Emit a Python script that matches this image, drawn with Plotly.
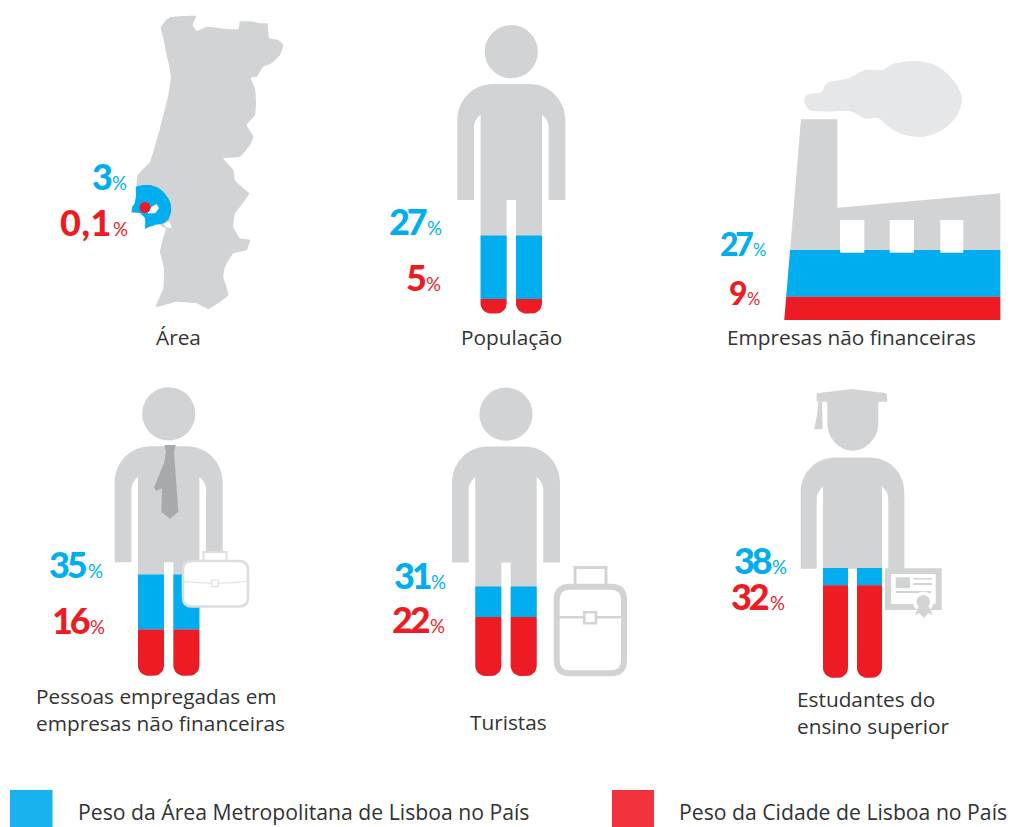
"""Pictogram infographic: weight of Lisbon city and metro area in Portugal."""
import numpy as np
import plotly.graph_objects as go

BLUE = "#00AEEF"
RED = "#ED1C24"
GREY = "#D1D3D4"
TEXT = "#333333"

# Shares as printed next to each pictogram
categories = ["Área", "População", "Empresas não financeiras",
              "Pessoas empregadas em<br>empresas não financeiras", "Turistas",
              "Estudantes do<br>ensino superior"]
metro_labels = ["3", "27", "27", "35", "31", "38"]
city_labels = ["0,1", "5", "9", "16", "22", "32"]

# Fill levels of the drawn pictograms, % of pictogram height (no fill for the map)
metro_levels = [None, 27, 27, 35, 31, 38]
city_levels = [None, 5, 9, 16, 20.4, 32]

legend_labels = ["Peso da Área Metropolitana de Lisboa no País", "Peso da Cidade de Lisboa no País"]

# right edge of the digits and their vertical centre, per pictogram
metro_anchor = [(112, 176), (427, 221), (753, 243), (87.5, 564), (431, 575), (772, 560)]
city_anchor = [(112.5, 222), (426, 277), (747, 292), (90, 620), (430, 619), (769.5, 596)]
number_size = [36, 36, 32, 36, 36, 36]

# people: centre x, feet y, scale
PEOPLE = {1: (511.3, 313.5, 1.0), 3: (168.7, 675.7, 1.0), 4: (506.0, 676.0, 1.0), 5: (852.5, 677.7, 0.96)}
PERSON_H = 289

# factory outline, page px
FACTORY_BASE, FACTORY_H, FACTORY_RIGHT = 320, 259, 1000.3
FACTORY_EDGE_Y, FACTORY_EDGE_X = [119.3, 320], [801, 784.3]

# outlines traced on a 3x crop, (crop x, crop y)
MAP_CROP = (60, 5)
MAP_OUTLINE = [(302, 68), (318, 45), (332, 36), (408, 33), (398, 60), (410, 78), (440, 65), (470, 68), (500, 72),
               (535, 72), (540, 50), (580, 50), (600, 55), (622, 55), (628, 100), (655, 105), (670, 120), (660, 150),
               (635, 175), (610, 185), (590, 215), (572, 218), (585, 250), (588, 290), (585, 330), (560, 360),
               (580, 395), (570, 420), (540, 455), (490, 460), (520, 495), (525, 525), (550, 550), (568, 565),
               (545, 600), (525, 625), (520, 665), (540, 700), (570, 705), (560, 735), (520, 745), (495, 785),
               (490, 815), (505, 870), (445, 912), (410, 895), (350, 890), (288, 905), (310, 850), (312, 790),
               (300, 740), (312, 690), (318, 672), (300, 660), (230, 545), (233, 510), (270, 470), (300, 370),
               (325, 270), (333, 215), (320, 150), (310, 100)]
METRO_OUTLINE = [(228, 545), (250, 540), (270, 540), (292, 547), (310, 560), (325, 580), (333, 600), (333, 622),
                 (326, 642), (310, 655), (285, 660), (262, 668), (256, 672), (255, 640), (240, 625), (215, 622),
                 (217, 605), (224, 595), (228, 570)]
ESTUARY = [(262, 625), (275, 605), (290, 597), (297, 610), (285, 625)]
NOTCH = [(310, 657), (328, 650), (336, 668), (322, 668)]

SMOKE_CROP = (715, 50)
SMOKE = [(268, 155), (275, 135), (320, 125), (335, 100), (400, 85), (450, 60), (500, 60), (540, 40), (600, 33),
         (660, 45), (710, 85), (740, 140), (730, 190), (690, 235), (630, 260), (570, 255), (520, 230), (490, 205),
         (450, 205), (410, 185), (330, 185), (285, 180), (268, 155)]

TIE_CROP = (30, 380)
TIE = [(403, 195), (437, 195), (432, 215), (445, 395), (420, 416), (394, 395), (396, 325), (378, 332), (372, 322),
       (402, 250), (408, 215)]

CAP_CROP = (730, 380)
BOARD = [(260, 40), (365, 27), (470, 40), (472, 65), (260, 65)]
TASSEL = [(265, 65), (276, 65), (278, 148), (253, 148), (262, 100)]
RIBBON = [(565, 680), (597, 680), (608, 705), (595, 700), (582, 714), (568, 700), (555, 705)]


def crop_xy(points, crop):
    xs = [crop[0] + p[0] / 3 for p in points]
    ys = [crop[1] + p[1] / 3 for p in points]
    return xs, ys


def to_path(points, crop):
    xs, ys = crop_xy(points, crop)
    return "M " + " L ".join(f"{x:.1f} {y:.1f}" for x, y in zip(xs, ys)) + " Z"


def person_path(cx, feet, s):
    def p(dx, up):
        return f"{cx + dx * s:.1f} {feet - up * s:.1f}"
    right = [f"M {p(-18, 229.5)} L {p(18, 229.5)}",
             f"C {p(38, 229.5)} {p(54, 214)} {p(54, 193)}",
             f"L {p(54, 113.5)} L {p(37.3, 113.5)} L {p(37.3, 186)}",
             f"C {p(37.3, 192)} {p(34, 196)} {p(30.7, 199)}",
             f"L {p(30.7, 10)} C {p(30.7, 4.5)} {p(26, 0)} {p(20.7, 0)}",
             f"L {p(14.7, 0)} C {p(9, 0)} {p(4.7, 4.5)} {p(4.7, 10)}",
             f"L {p(4.7, 113.5)} L {p(-4.7, 113.5)} L {p(-4.7, 10)}",
             f"C {p(-4.7, 4.5)} {p(-9, 0)} {p(-14.7, 0)}",
             f"L {p(-20.7, 0)} C {p(-26, 0)} {p(-30.7, 4.5)} {p(-30.7, 10)}",
             f"L {p(-30.7, 199)} C {p(-34, 196)} {p(-37.3, 192)} {p(-37.3, 186)}",
             f"L {p(-37.3, 113.5)} L {p(-54, 113.5)} L {p(-54, 193)}",
             f"C {p(-54, 214)} {p(-38, 229.5)} {p(-18, 229.5)} Z"]
    return " ".join(right)


def leg_polygons(cx, feet, s, top, bottom):
    """Two leg sections between two heights above the feet; rounded when they reach the feet."""
    xs, ys = [], []
    theta = np.linspace(0, np.pi / 2, 8)
    r = 10 * s
    for x0, x1 in [(4.7, 30.7), (-30.7, -4.7)]:
        x0, x1 = cx + x0 * s, cx + x1 * s
        if bottom > 0:
            xs += [x0, x1, x1, x0, x0, None]
            ys += [feet - top, feet - top, feet - bottom, feet - bottom, feet - top, None]
        else:
            xs += [x0, x1] + list(x1 - r + r * np.cos(theta)) + list(x0 + r - r * np.sin(theta)) + [x0, None]
            ys += [feet - top, feet - top] + list(feet - r + r * np.sin(theta)) + list(feet - r + r * np.cos(theta)) + [feet - top, None]
    return xs, ys


def fill_trace(xs, ys, color, smooth=None):
    line = dict(width=0)
    if smooth:
        line.update(shape="spline", smoothing=smooth)
    return go.Scatter(x=xs, y=ys, mode="lines", fill="toself", fillcolor=color, line=line, hoverinfo="skip")


def rect(x0, y0, x1, y1, fill=None, line=None, width=0, layer="above"):
    return dict(type="rect", x0=x0, y0=y0, x1=x1, y1=y1, fillcolor=fill or "rgba(0,0,0,0)",
                line=dict(color=line or "rgba(0,0,0,0)", width=width), layer=layer)


def path(d, fill=None, line=None, width=0, layer="above"):
    return dict(type="path", path=d, fillcolor=fill or "rgba(0,0,0,0)",
                line=dict(color=line or "rgba(0,0,0,0)", width=width), layer=layer)


def round_rect(x0, y0, x1, y1, r):
    return (f"M {x0 + r} {y0} L {x1 - r} {y0} Q {x1} {y0} {x1} {y0 + r} L {x1} {y1 - r} Q {x1} {y1} {x1 - r} {y1} "
            f"L {x0 + r} {y1} Q {x0} {y1} {x0} {y1 - r} L {x0} {y0 + r} Q {x0} {y0} {x0 + r} {y0} Z")


fig = go.Figure()
shapes = []

# map
fig.add_trace(fill_trace(*crop_xy(MAP_OUTLINE + MAP_OUTLINE[:1], MAP_CROP), GREY, smooth=0.35))
fig.add_trace(fill_trace(*crop_xy(METRO_OUTLINE + METRO_OUTLINE[:1], MAP_CROP), BLUE, smooth=0.4))
fig.add_trace(fill_trace(*crop_xy(ESTUARY + ESTUARY[:1], MAP_CROP), "white"))
fig.add_trace(fill_trace(*crop_xy(NOTCH + NOTCH[:1], MAP_CROP), "white"))
fig.add_trace(go.Scatter(x=[145], y=[207.5], mode="markers", marker=dict(color=RED, size=11, line=dict(width=0)), hoverinfo="skip"))

# people
for i, (cx, feet, s) in PEOPLE.items():
    shapes.append(path(person_path(cx, feet, s), fill=GREY, layer="below"))
    if i != 5:
        up = 261.8 * s
        shapes.append(dict(type="circle", x0=cx - 26.6, x1=cx + 26.6, y0=feet - up - 26.6, y1=feet - up + 26.6,
                           fillcolor=GREY, line=dict(width=0), layer="below"))
    metro_h = PERSON_H * metro_levels[i] / 100
    city_h = PERSON_H * city_levels[i] / 100
    fig.add_trace(fill_trace(*leg_polygons(cx, feet, s, metro_h, city_h), BLUE))
    fig.add_trace(fill_trace(*leg_polygons(cx, feet, s, city_h, 0), RED))

# factory
fig.add_trace(fill_trace(*crop_xy(SMOKE, SMOKE_CROP), "#E6E7E8", smooth=0.9))
shapes.append(path("M 801 119.3 L 837.3 119.3 L 837.3 207.7 L 1000.3 193.3 L 1000.3 320 L 784.3 320 Z", fill=GREY, layer="below"))
metro_y = FACTORY_BASE - FACTORY_H * metro_levels[2] / 100
city_y = FACTORY_BASE - FACTORY_H * city_levels[2] / 100
edge = lambda y: float(np.interp(y, FACTORY_EDGE_Y, FACTORY_EDGE_X))
fig.add_trace(fill_trace([edge(metro_y), FACTORY_RIGHT, FACTORY_RIGHT, edge(city_y), edge(metro_y)],
                         [metro_y, metro_y, city_y, city_y, metro_y], BLUE))
fig.add_trace(fill_trace([edge(city_y), FACTORY_RIGHT, FACTORY_RIGHT, edge(FACTORY_BASE), edge(city_y)],
                         [city_y, city_y, FACTORY_BASE, FACTORY_BASE, city_y], RED))
for x0, x1 in [(840, 864.3), (889.7, 914), (940.3, 963.3)]:
    shapes.append(rect(x0, 220, x1, 252.7, fill="white"))

# tie and briefcase
PROP = "#DCDDDE"
shapes.append(path(to_path(TIE, TIE_CROP), fill="#A7A9AC"))
shapes.append(rect(203.5, 552, 226.5, 562, fill="white", line=PROP, width=2))
shapes.append(path(round_rect(183, 561, 248, 606.5, 9), fill="white", line=PROP, width=2.6))
shapes.append(path("M 184 581.5 Q 215 585 247 581.5", line=PROP, width=1.2))
shapes.append(rect(211.7, 580, 218.3, 586.7, fill="white", line=PROP, width=1.2))

# suitcase
shapes.append(rect(575, 567.5, 606, 588, fill="white", line=GREY, width=3))
shapes.append(path(round_rect(556.7, 586.7, 624, 673.3, 13), fill="white", line=GREY, width=6))
shapes.append(path("M 559 617.3 L 622 617.3", line=GREY, width=2.5))
shapes.append(rect(584.3, 612.3, 596, 623.3, fill="white", line=GREY, width=2.5))

# cap and diploma
shapes.append(path(to_path(BOARD, CAP_CROP), fill=GREY, layer="below"))
shapes.append(path(to_path(TASSEL, CAP_CROP), fill=GREY, layer="below"))
shapes.append(path("M 827.3 400 L 878.3 400 L 878.3 423 C 878.3 438 866 450.7 852.7 450.7 C 839 450.7 827.3 438 827.3 423 Z",
                   fill=GREY, layer="below"))
shapes.append(rect(885, 568.3, 941.7, 610, fill=GREY))
shapes.append(rect(891, 574, 935.7, 604, fill="white"))
shapes.append(rect(895.7, 577.3, 910, 588.3, fill=GREY))
for x0, y0, x1, y1 in [(913.5, 578, 932, 579.5), (913.5, 583, 932, 585), (895.7, 591, 931, 593)]:
    shapes.append(rect(x0, y0, x1, y1, fill=GREY))
shapes.append(dict(type="circle", x0=913, x1=933.5, y0=591.5, y1=612, fillcolor="white", line=dict(width=0), layer="above"))
shapes.append(path(to_path(RIBBON, CAP_CROP), fill=GREY))
shapes.append(dict(type="circle", x0=916.5, x1=930, y0=595, y1=608.5, fillcolor=GREY, line=dict(width=0), layer="above"))

# legend swatches
shapes.append(rect(10, 790, 52.5, 827, fill="#1AB1F0", layer="below"))
shapes.append(rect(612, 790, 654, 827, fill="#F2333D", layer="below"))

annotations = []


def text(x, y, s, size, color=TEXT, anchor="center", family="Open Sans", weight=None):
    font = dict(family=family, size=size, color=color)
    if weight:
        font["weight"] = weight
    annotations.append(dict(x=x, y=y, text=s, showarrow=False, xanchor=anchor, yanchor="middle", align=anchor,
                            font=font, xref="x", yref="y"))


for i in range(6):
    for labels, anchors, color in [(metro_labels, metro_anchor, BLUE), (city_labels, city_anchor, RED)]:
        x, y = anchors[i]
        size = number_size[i]
        spacing = -3.2 if "," not in labels[i] else 0.5
        text(x + 1.5, y, f'<span style="letter-spacing:{spacing}px">{labels[i]}</span>', size, color, "right", "Lato", 900)
        text(x - 2, y + 7, "%", size * 0.52, color, "left", "Lato")

label_pos = [(178, 337, "center"), (511, 337, "center"), (851, 337, "center"),
             (34, 709.5, "left"), (508, 722, "center"), (795, 712.5, "left")]
for (x, y, anchor), name in zip(label_pos, categories):
    text(x, y, name, 20.8, anchor=anchor)

text(76, 811, legend_labels[0], 21.2, anchor="left")
text(677, 811, legend_labels[1], 21.2, anchor="left")

fig.update_layout(
    width=1015,
    height=827,
    margin=dict(l=0, r=0, t=0, b=0),
    paper_bgcolor="white",
    plot_bgcolor="white",
    showlegend=False,
    shapes=shapes,
    annotations=annotations,
    xaxis=dict(range=[0, 1015], visible=False, fixedrange=True),
    yaxis=dict(range=[827, 0], visible=False, fixedrange=True),
)
fig.write_html("out.html", config=dict(displayModeBar=False),
               post_script="document.body.style.margin='0';document.body.style.overflow='hidden';")
